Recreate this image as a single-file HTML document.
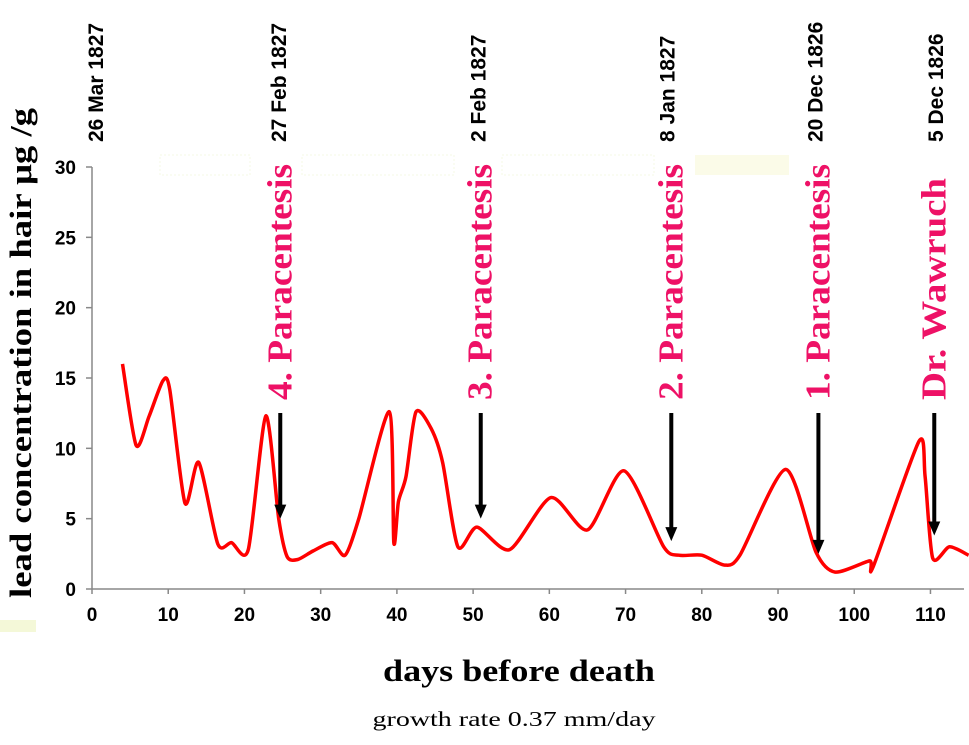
<!DOCTYPE html>
<html><head><meta charset="utf-8"><style>
html,body{margin:0;padding:0;background:#fff;}
svg{display:block;}
</style></head><body>
<svg id="chart" width="969" height="745" viewBox="0 0 969 745" xmlns="http://www.w3.org/2000/svg">
<rect x="0" y="0" width="969" height="745" fill="#fff"/>
<rect x="160" y="155" width="90" height="20" fill="none" stroke="#f6f8e4" stroke-width="1" stroke-dasharray="2,2"/>
<rect x="302" y="155" width="152" height="20" fill="none" stroke="#f6f8e4" stroke-width="1" stroke-dasharray="2,2"/>
<rect x="502" y="155" width="152" height="20" fill="none" stroke="#f6f8e4" stroke-width="1" stroke-dasharray="2,2"/>
<rect x="695" y="155" width="94" height="20" fill="#fbfbe8"/>
<rect x="0" y="620" width="36" height="12" fill="#f4f8d8"/>
<g id="axes"></g>
<g id="series"></g>
<g id="annotations"></g>
<text transform="translate(31,598) rotate(-90)" font-family="Liberation Serif, serif" font-weight="bold" font-size="31" fill="#000" textLength="490" lengthAdjust="spacingAndGlyphs">lead concentration in hair μg /g</text>
<text x="519" y="681" text-anchor="middle" font-family="Liberation Serif, serif" font-weight="bold" font-size="31" fill="#000" textLength="272" lengthAdjust="spacingAndGlyphs">days before death</text>
<text x="514" y="726" text-anchor="middle" font-family="Liberation Serif, serif" font-size="21" fill="#000" textLength="283" lengthAdjust="spacingAndGlyphs">growth rate 0.37 mm/day</text>
</svg>
<script>
const xTicks = [0,10,20,30,40,50,60,70,80,90,100,110];
const yTicks = [0,5,10,15,20,25,30];
const days = [4,5.8,7.5,9.3,10.2,12.2,14,16.5,18.3,20.5,22.8,24.5,25.6,27,29,31.5,33.2,35,39,39.6,40.2,41.2,42.5,44.5,46,48,50.5,54.8,60.2,65,69.8,75,77,80,83,85,91,95,97.5,102,102.5,108.5,109.3,110.3,112.5,115];
const lead = [16,10.2,12.3,14.8,14.2,6.1,9,3.2,3.3,2.8,12.3,5,2.3,2.1,2.7,3.3,2.4,5,12.6,3.3,6.2,8,12.6,11.4,9,3,4.4,2.8,6.5,4.2,8.4,3,2.4,2.4,1.7,2.4,8.5,2.6,1.2,2.0,1.6,10.5,8,2.2,3.0,2.4];
const eventDays = [24.7,51,76,95.3,110.5];
const eventLevels = [5.0,5.0,3.4,2.5,3.8];
const eventLabels = ["4. Paracentesis","3. Paracentesis","2. Paracentesis","1. Paracentesis","Dr. Wawruch"];
const dateDays = [0.4,24.4,50.6,75.4,94.8,110.6];
const dateLabels = ["26 Mar 1827","27 Feb 1827","2 Feb 1827","8 Jan 1827","20 Dec 1826","5 Dec 1826"];

const NS="http://www.w3.org/2000/svg";
const X0=92, X1=964, XMAX=114.4, Y0=589, Y1=167, YMAX=30;
function sx(v){return X0+(X1-X0)*v/XMAX;}
function sy(v){return Y0-(Y0-Y1)*v/YMAX;}
function mk(tag,attrs,parent){const e=document.createElementNS(NS,tag);for(const k in attrs)e.setAttribute(k,attrs[k]);parent.appendChild(e);return e;}
const axes=document.getElementById('axes');
const ax1=mk('line',{x1:X0,y1:Y1,x2:X0,y2:Y0,stroke:'#888','stroke-width':1.5},axes);


const ax2=mk('line',{x1:X0,y1:Y0,x2:X1,y2:Y0,stroke:'#888','stroke-width':1.5},axes);


yTicks.forEach(v=>{
  mk('line',{x1:X0-6,y1:sy(v),x2:X0,y2:sy(v),stroke:'#888','stroke-width':1.5},axes);
  const t=mk('text',{x:76,y:sy(v)+7,'text-anchor':'end','font-family':'Liberation Sans, sans-serif','font-weight':'bold','font-size':19,fill:'#000'},axes);
  t.textContent=v;
  
  
});
xTicks.forEach(v=>{
  mk('line',{x1:sx(v),y1:Y0,x2:sx(v),y2:Y0+5,stroke:'#888','stroke-width':1.5},axes);
  const t=mk('text',{x:sx(v),y:621,'text-anchor':'middle','font-family':'Liberation Sans, sans-serif','font-weight':'bold','font-size':19,fill:'#000'},axes);
  t.textContent=v;
  
  
});
const pts=days.map((d,i)=>[sx(d),sy(lead[i])]);
let d='M'+pts[0][0]+','+pts[0][1];
const k=8;
for(let i=0;i<pts.length-1;i++){
  const p0=pts[Math.max(0,i-1)],p1=pts[i],p2=pts[i+1],p3=pts[Math.min(pts.length-1,i+2)];
  const c1=[p1[0]+(p2[0]-p0[0])/k,p1[1]+(p2[1]-p0[1])/k];
  const c2=[p2[0]-(p3[0]-p1[0])/k,p2[1]-(p3[1]-p1[1])/k];
  d+=' C'+c1[0].toFixed(1)+','+c1[1].toFixed(1)+' '+c2[0].toFixed(1)+','+c2[1].toFixed(1)+' '+p2[0].toFixed(1)+','+p2[1].toFixed(1);
}
const line=mk('path',{d:d,fill:'none',stroke:'#ff0000','stroke-width':3.5,'stroke-linejoin':'round'},document.getElementById('series'));


const ann=document.getElementById('annotations');
eventDays.forEach((v,i)=>{
  const x=sx(v), tip=sy(eventLevels[i]);
  const s=mk('line',{x1:x,y1:413,x2:x,y2:tip-12,stroke:'#000','stroke-width':4},ann);
  
  
  const h=mk('polygon',{points:(x-6)+','+(tip-14)+' '+(x+6)+','+(tip-14)+' '+x+','+tip,fill:'#000'},ann);
  
  
  const len = eventLabels[i].startsWith('Dr')?222:236;
  const t=mk('text',{transform:'translate('+(x+11)+',400) rotate(-90)','font-family':'Liberation Serif, serif','font-weight':'bold','font-size':35,fill:'#ee1166',textLength:len,lengthAdjust:'spacingAndGlyphs'},ann);
  t.textContent=eventLabels[i];
  
  
});
dateDays.forEach((v,i)=>{
  const t=mk('text',{transform:'translate('+(sx(v)+8)+',142) rotate(-90)','font-family':'Liberation Sans, sans-serif','font-weight':'bold','font-size':21,fill:'#000'},ann);
  t.textContent=dateLabels[i];
  
  
});
</script>
</body></html>
